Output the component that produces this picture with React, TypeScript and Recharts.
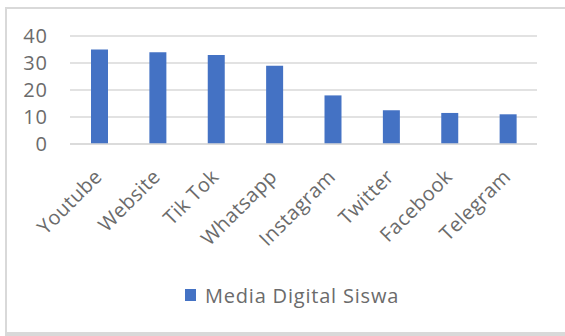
import React from "react";
import { BarChart, Bar, XAxis, YAxis, CartesianGrid, Legend } from "recharts";

const categories = ["Youtube", "Website", "Tik Tok", "Whatsapp", "Instagram", "Twitter", "Facebook", "Telegram"];
const values = [35, 34, 33, 29, 18, 12.5, 11.5, 11];
const yTicks = [0, 10, 20, 30, 40];
const seriesName = "Media Digital Siswa";

const data = categories.map((c, i) => ({ name: c, value: values[i] }));

const FONT = "'Open Sans', sans-serif";
const TEXT = "#6b6b6b";

const XTick = (props: any) => {
  const { x, y, payload } = props;
  return (
    <g transform={`translate(${x + 4},${y + 34})`}>
      <text
        textAnchor="end"
        transform="rotate(-45)"
        fill={TEXT}
        fontSize={20}
        fontFamily={FONT}
        letterSpacing={0.4}
      >
        {payload.value}
      </text>
    </g>
  );
};

const YTick = (props: any) => {
  const { x, y, payload } = props;
  return (
    <text x={x} y={y} dy={7} textAnchor="end" fill={TEXT} fontSize={20} fontFamily={FONT} letterSpacing={1}>
      {payload.value}
    </text>
  );
};

const LegendContent = () => (
  <div style={{ height: 24, display: "flex", alignItems: "center", paddingLeft: 185, fontFamily: FONT, fontSize: 20, color: TEXT, letterSpacing: 0.8 }}>
    <span style={{ width: 11, height: 12, background: "#4472C4", display: "inline-block", marginRight: 9 }} />
    <span>{seriesName}</span>
  </div>
);

export default function App() {
  return (
    <div style={{ position: "absolute", left: 0, top: 0, width: 565, height: 336, background: "#fff" }}>
      <div style={{ position: "absolute", left: 5, top: 7, width: 570, height: 323, borderTop: "2px solid #d9d9d9", borderLeft: "2px solid #d9d9d9", borderBottom: "4px solid #d9d9d9" }} />
      <BarChart
        width={565}
        height={336}
        data={data}
        margin={{ top: 36, right: 28, left: 0, bottom: 29 }}
        style={{ position: "absolute", left: 0, top: 0 }}
      >
        <CartesianGrid vertical={false} stroke="#d9d9d9" strokeWidth={1.5} />
        <XAxis
          dataKey="name"
          height={139}
          interval={0}
          tickLine={false}
          axisLine={{ stroke: "#d9d9d9", strokeWidth: 1.5 }}
          tickSize={0}
          tickMargin={0}
          tick={<XTick />}
        />
        <YAxis
          width={70}
          domain={[0, 40]}
          ticks={yTicks}
          interval={0}
          axisLine={false}
          tickLine={false}
          tickSize={0}
          tickMargin={22}
          tick={<YTick />}
        />
        <Legend
          verticalAlign="bottom"
          height={24}
          content={<LegendContent />}
          wrapperStyle={{ left: 0, width: 565 }}
        />
        <Bar dataKey="value" name={seriesName} fill="#4472C4" barSize={17} isAnimationActive={false} />
      </BarChart>
    </div>
  );
}
